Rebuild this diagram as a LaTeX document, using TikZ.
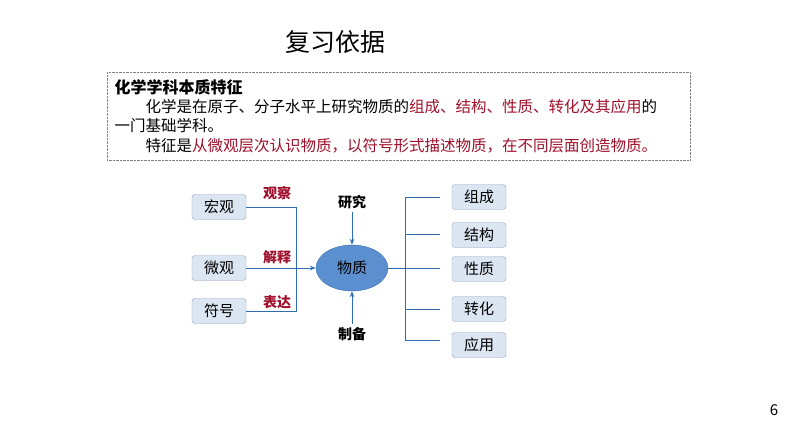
\documentclass[tikz,border=0pt]{standalone}
\usepackage{fontspec}
\setmainfont{Noto Sans CJK SC}
\usetikzlibrary{shapes.geometric,arrows.meta,positioning}
\definecolor{boxfill}{HTML}{DCE6F2}
\definecolor{boxline}{HTML}{8EA4C0}
\definecolor{linkblue}{HTML}{2E6DB4}
\definecolor{darkred}{HTML}{A0102A}
\definecolor{ellfill}{HTML}{5B8FD0}
\begin{document}
\begin{tikzpicture}[x=1pt, y=-1pt]
    \tikzstyle{item} = [rectangle, rounded corners=3pt, draw=boxline, fill=boxfill, minimum width=54pt, minimum height=25pt, font=\fontsize{15}{15}\selectfont]
    \tikzstyle{verb} = [text=darkred, font=\fontsize{14}{14}\selectfont\bfseries]
    \tikzstyle{link} = [linkblue, line width=1pt]
    \tikzstyle{arrow} = [link, -{Stealth[length=6pt]}]

    \useasboundingbox (0,0) rectangle (794,447);
    \node[font=\fontsize{25}{25}\selectfont] (title) at (335,42) {复习依据};

    % text box
    \draw[gray, densely dotted] (107,72) rectangle (690,160);
    \node[anchor=west, font=\fontsize{16}{16}\selectfont\bfseries] (head) at (111,87) {化学学科本质特征};
    \node[anchor=west, font=\fontsize{15.5}{15.5}\selectfont] (line1) at (111,107) {\hspace{2em}化学是在原子、分子水平上研究物质的\textcolor{darkred}{组成、结构、性质、转化及其应用}的};
    \node[anchor=west, font=\fontsize{15.5}{15.5}\selectfont] (line2) at (111,126) {一门基础学科。};
    \node[anchor=west, font=\fontsize{15.5}{15.5}\selectfont] (line3) at (111,146) {\hspace{2em}特征是\textcolor{darkred}{从微观层次认识物质，以符号形式描述物质，在不同层面创造物质。}};

    % left side
    \node[item] (macro) at (219,207) {宏观};
    \node[item] (micro) at (219,268) {微观};
    \node[item] (symbol) at (219,311) {符号};
    \node[ellipse, draw=linkblue, fill=ellfill, minimum width=72pt, minimum height=46pt, font=\fontsize{15}{15}\selectfont] (matter) at (352,268) {物质};
    \coordinate (jt) at (296,207);
    \coordinate (jb) at (296,311);
    \draw[link] (macro.east) -- (jt) -- (jb) -- (symbol.east);
    \draw[arrow] (micro.east) -- (matter.west);
    \node[verb] (observe) at (277,193) {观察};
    \node[verb] (explain) at (277,257) {解释};
    \node[verb] (express) at (277,302) {表达};

    % top and bottom
    \node[font=\fontsize{14}{14}\selectfont\bfseries] (study) at (352,202) {研究};
    \node[font=\fontsize{14}{14}\selectfont\bfseries] (make) at (352,334) {制备};
    \draw[arrow] (study) -- (matter);
    \draw[arrow] (make) -- (matter);

    % right side
    \node[item] (comp) at (479,197) {组成};
    \node[item] (struct) at (479,235) {结构};
    \node[item] (prop) at (479,269) {性质};
    \node[item] (trans) at (479,309) {转化};
    \node[item] (appl) at (479,345) {应用};
    \coordinate (rt) at (405,197);
    \coordinate (rb) at (405,340);
    \draw[link] (matter.east) -- ++(52,0);
    \draw[link] (rt) -- (rb);
    \foreach \y in {197,234,309,340} {
        \draw[link] (405,\y) -- ++(35,0);
    }

    \node[font=\fontsize{15}{15}\selectfont] (page) at (774,410) {6};
\end{tikzpicture}
\end{document}
